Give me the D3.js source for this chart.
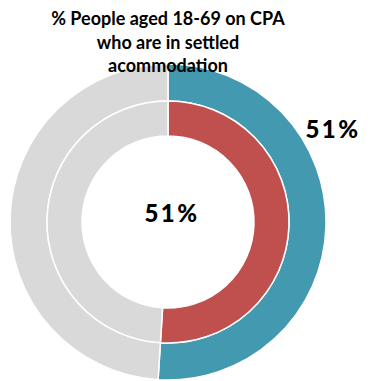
<!DOCTYPE html>
<html><head><meta charset="utf-8">
<script src="https://cdn.jsdelivr.net/npm/d3@7"></script>
<style>body{margin:0;background:#fff}svg{display:block}</style>
</head><body>
<script>
const titleLines = ["% People aged 18-69 on CPA", "who are in settled", "acommodation"];
const outerValues = [51, 49];
const innerValues = [51, 49];
const outerLabel = "51%";
const innerLabel = "51%";
const outerColors = ["#4299B0", "#D9D9D9"];
const innerColors = ["#C0504D", "#D9D9D9"];

const W = 370, H = 381;
const svg = d3.select("body").append("svg").attr("width", W).attr("height", H);
const cx = 168, cy = 222;
const pie = d3.pie().sort(null).value(d => d);
const outerArc = d3.arc().innerRadius(121).outerRadius(158);
const innerArc = d3.arc().innerRadius(86).outerRadius(121);
const g = svg.append("g").attr("transform", `translate(${cx},${cy})`);
g.selectAll("path.o").data(pie(outerValues)).join("path").attr("class","o")
  .attr("d", outerArc).attr("fill", (d,i) => outerColors[i]).attr("stroke", "#fff").attr("stroke-width", 1.5);
g.selectAll("path.i").data(pie(innerValues)).join("path").attr("class","i")
  .attr("d", innerArc).attr("fill", (d,i) => innerColors[i]).attr("stroke", "#fff").attr("stroke-width", 1.5);

g.append("text").attr("x", 4).attr("y", 0).attr("text-anchor", "middle")
  .attr("font-family", "Lato, 'Open Sans', sans-serif").attr("font-weight", 900)
  .attr("font-size", 24).attr("letter-spacing", 2.5).attr("fill", "#000").text(innerLabel);
svg.append("text").attr("x", 333).attr("y", 138).attr("text-anchor", "middle")
  .attr("font-family", "Lato, 'Open Sans', sans-serif").attr("font-weight", 900)
  .attr("font-size", 24).attr("letter-spacing", 2.5).attr("fill", "#000").text(outerLabel);

const t = svg.append("text").attr("text-anchor", "middle")
  .attr("font-family", "Lato, 'Open Sans', sans-serif").attr("font-weight", "bold")
  .attr("font-size", 18).attr("fill", "#000");
titleLines.forEach((l, i) => t.append("tspan").attr("x", 168).attr("y", 25 + i * 23.5).text(l));
</script>
</body></html>
